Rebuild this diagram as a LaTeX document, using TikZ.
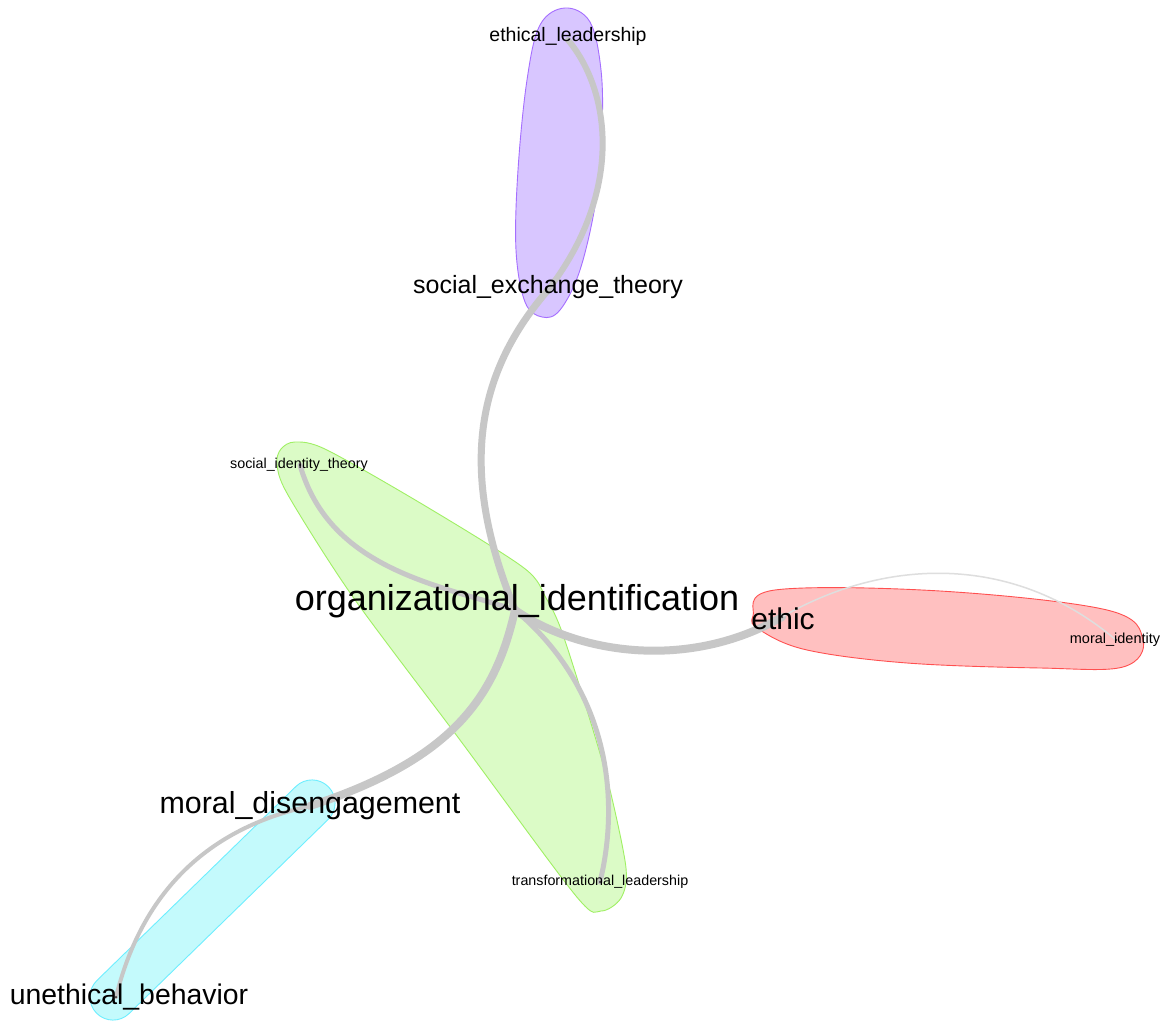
\documentclass[tikz,border=0pt]{standalone}
\usepackage{fontspec}
\setmainfont{Liberation Sans}
\begin{document}
\begin{tikzpicture}[x=1pt,y={(0pt,-1pt)},
  lbl/.style={inner sep=0pt,anchor=center,text=black},
  edge/.style={draw=black!22,line cap=round},
  dotmark/.style={circle,fill=black!75,inner sep=0pt,minimum size=2.5pt},
  hullP/.style={fill={rgb,255:red,216;green,198;blue,255},draw={rgb,255:red,165;green,110;blue,255},line width=0.9pt},
  hullG/.style={fill={rgb,255:red,219;green,251;blue,198},draw={rgb,255:red,160;green,240;blue,100},line width=0.9pt},
  hullR/.style={fill={rgb,255:red,255;green,192;blue,192},draw={rgb,255:red,255;green,80;blue,80},line width=0.9pt},
  hullC/.style={fill={rgb,255:red,196;green,250;blue,252},draw={rgb,255:red,110;green,238;blue,255},line width=0.9pt}]
\useasboundingbox[fill=white] (0,0) rectangle (1168,1024);

% hulls
\path[hullP] plot[smooth cycle,tension=0.6] coordinates {(565,8) (590,22) (601,70) (602,130) (596,200) (580,270) (560,310) (542,317) (525,302) (516,250) (518,170) (527,80) (540,25)};
\path[hullG] plot[smooth cycle,tension=0.5] coordinates {(281,449) (295,442) (327,450) (427,507) (524,568) (546,598) (562,632) (590,720) (610,790) (626,868) (621,898) (601,911) (576,896) (460,740) (353,597) (288,495) (277,464)};
\path[hullR] plot[smooth cycle,tension=0.6] coordinates {(753,616) (775,590) (940,591) (1107,610) (1143,640) (1123,667) (1040,668) (907,663) (807,650) (760,630)};
\path[hullC,rounded corners=23pt] (312.4,770.4) -- (344.6,803.4) -- (112.6,1029.6) -- (80.4,996.6) -- cycle;

% vertex coordinates
\coordinate (oi) at (515,610);
\coordinate (se) at (548,290);
\coordinate (el) at (568,40);
\coordinate (si) at (300,465);
\coordinate (et) at (782,617);
\coordinate (mi) at (1116,640);
\coordinate (tl) at (600,882);
\coordinate (md) at (310,806);
\coordinate (ub) at (116,997);

% edges
\draw[edge,line width=7pt] (oi) .. controls (462,480) and (470,380) .. (se);
\draw[edge,line width=6pt] (se) .. controls (625,190) and (610,90) .. (el);
\draw[edge,line width=5pt] (oi) .. controls (440,585) and (330,570) .. (si);
\draw[edge,line width=8pt] (oi) .. controls (580,655) and (690,670) .. (et);
\draw[draw=black!13,line width=1.5pt] (et) .. controls (880,560) and (1010,550) .. (mi);
\draw[edge,line width=5pt] (oi) .. controls (610,690) and (620,800) .. (tl);
\draw[edge,line width=8pt] (oi) .. controls (495,700) and (450,760) .. (md);
\draw[edge,line width=4pt] (md) .. controls (200,830) and (140,900) .. (ub);

% dots
\node[dotmark] (dsi) at (si) {};
\node[dotmark] (dtl) at (tl) {};
\node[dotmark] (dub) at (ub) {};
\node[dotmark] (dmi) at (mi) {};
\node[dotmark] (det) at (et) {};

% labels
\node[lbl,font=\fontsize{36}{40}\selectfont] (Loi) at (517,601) {organizational\_identification};
\node[lbl,font=\fontsize{25}{28}\selectfont] (Lse) at (548,287) {social\_exchange\_theory};
\node[lbl,font=\fontsize{19.5}{22}\selectfont] (Lel) at (568,36) {ethical\_leadership};
\node[lbl,font=\fontsize{14.3}{16}\selectfont] (Lsi) at (299,465) {social\_identity\_theory};
\node[lbl,font=\fontsize{30}{34}\selectfont] (Let) at (783,619) {ethic};
\node[lbl,font=\fontsize{14.5}{16}\selectfont] (Lmi) at (1115,640) {moral\_identity};
\node[lbl,font=\fontsize{14.3}{16}\selectfont] (Ltl) at (600,882) {transformational\_leadership};
\node[lbl,font=\fontsize{30.4}{34}\selectfont] (Lmd) at (310,806) {moral\_disengagement};
\node[lbl,font=\fontsize{28.4}{32}\selectfont] (Lub) at (129,997) {unethical\_behavior};
\end{tikzpicture}
\end{document}
